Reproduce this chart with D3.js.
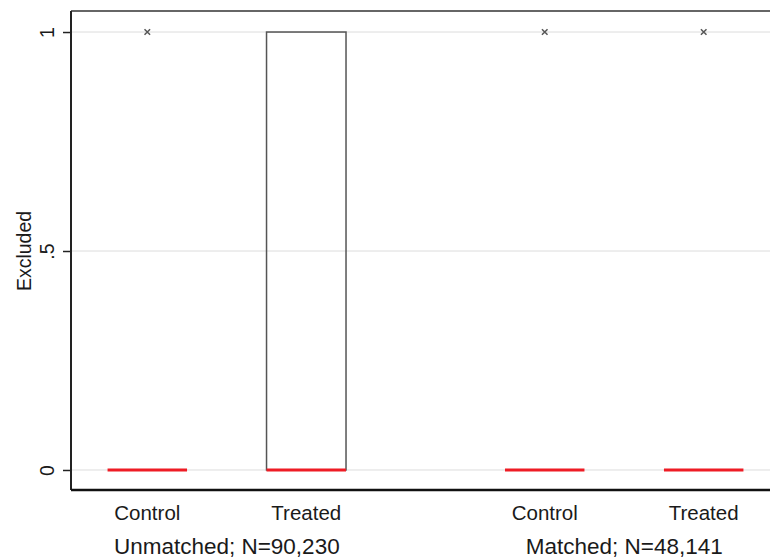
<!DOCTYPE html>
<html>
<head>
<meta charset="utf-8">
<script src="https://cdn.jsdelivr.net/npm/d3@7"></script>
<style>
  body { margin: 0; background: #fff; }
  text { font-family: "Liberation Sans", Arial, sans-serif; fill: #1a1a1a; }
</style>
</head>
<body>
<div id="chart"></div>
<script>
// groups and the boxes inside them
var groups = ["Unmatched; N=90,230", "Matched; N=48,141"];
var categories = ["Control", "Treated"];
// box stats per group/category: q1, median, q3 and outliers
var q1 = [[0, 0], [0, 0]];
var medians = [[0, 0], [0, 0]];
var q3 = [[0, 1], [0, 0]];
var outliers = [[[1], []], [[1], [1]]];
var yTicks = [0, 0.5, 1];
var yTickLabels = ["0", ".5", "1"];

var width = 770, height = 558;
var margin = {top: 11, right: -10, bottom: 68, left: 71};

var svg = d3.select("#chart").append("svg")
	.attr("width", width)
	.attr("height", height);

var plotW = width - margin.left - margin.right,
	plotH = height - margin.top - margin.bottom;

var g = svg.append("g")
	.attr("transform", "translate(" + margin.left + "," + margin.top + ")");

// slots: control/treated side by side, half a slot gap between groups
var slots = [];
groups.forEach(function(grp, gi) {
	categories.forEach(function(cat, ci) {
		slots.push({group: gi, cat: ci, pos: gi * 2.5 + ci});
	});
});

var x = d3.scaleLinear().domain([-0.48, 3.98]).range([0, plotW]);
var boxW = x(0.5) - x(0);
var y = d3.scaleLinear().domain([-0.0457, 1.048]).range([plotH, 0]);

// grid lines
g.selectAll(".grid").data(yTicks).enter().append("line")
	.attr("x1", 0).attr("x2", plotW)
	.attr("y1", function(d) { return y(d); })
	.attr("y2", function(d) { return y(d); })
	.style("stroke", "#dcdcdc")
	.style("stroke-width", 1);

// boxes
slots.forEach(function(s) {
	var cx = x(s.pos);
	var lo = q1[s.group][s.cat], hi = q3[s.group][s.cat];
	if (hi > lo) {
		g.append("rect")
			.attr("x", cx - boxW / 2)
			.attr("y", y(hi))
			.attr("width", boxW)
			.attr("height", y(lo) - y(hi))
			.style("fill", "none")
			.style("stroke", "#555")
			.style("stroke-width", 1.5);
	}
	g.append("line")
		.attr("x1", cx - boxW / 2).attr("x2", cx + boxW / 2)
		.attr("y1", y(medians[s.group][s.cat]))
		.attr("y2", y(medians[s.group][s.cat]))
		.style("stroke", "#ee1c25")
		.style("stroke-width", 3);
	outliers[s.group][s.cat].forEach(function(v) {
		g.append("path")
			.attr("d", d3.symbol(d3.symbolX, 22)())
			.attr("transform", "translate(" + cx + "," + y(v) + ")")
			.style("stroke", "#555")
			.style("stroke-width", 1.5)
			.style("fill", "none");
	});
});

// frame
g.append("line").attr("x1", 0).attr("x2", plotW).attr("y1", 0).attr("y2", 0)
	.style("stroke", "#333").style("stroke-width", 1.5);

// y axis
var yAxis = g.append("g")
	.call(d3.axisLeft(y).tickValues(yTicks).tickSize(8)
		.tickFormat(function(d, i) { return yTickLabels[i]; }));
yAxis.select(".domain").attr("d", "M0,0V" + plotH).style("stroke", "#222").style("stroke-width", 2);
yAxis.selectAll(".tick line").style("stroke", "#222").style("stroke-width", 1.5);
yAxis.selectAll(".tick text")
	.attr("x", 0).attr("y", 0).attr("dy", 0)
	.attr("transform", "translate(-17,0) rotate(-90)")
	.attr("text-anchor", "middle")
	.style("font-size", "19.5px")
	.style("font-family", "'Liberation Sans', Arial, sans-serif")
	.style("fill", "#1a1a1a");

// bottom axis line
g.append("line").attr("x1", 0).attr("x2", plotW).attr("y1", plotH).attr("y2", plotH)
	.style("stroke", "#111").style("stroke-width", 2.5);

// category labels
g.selectAll(".cat").data(slots).enter().append("text")
	.attr("x", function(d) { return x(d.pos); })
	.attr("y", plotH + 30)
	.attr("text-anchor", "middle")
	.style("font-size", "20.5px")
	.text(function(d) { return categories[d.cat]; });

// group labels
g.selectAll(".grp").data(groups).enter().append("text")
	.attr("x", function(d, i) { return x(i * 2.5 + 0.5); })
	.attr("y", plotH + 64)
	.attr("text-anchor", "middle")
	.style("font-size", "22.5px")
	.text(function(d) { return d; });

// y title
svg.append("text")
	.attr("transform", "translate(31," + (margin.top + y(0.5)) + ") rotate(-90)")
	.attr("text-anchor", "middle")
	.style("font-size", "19.5px")
	.text("Excluded");
</script>
</body>
</html>
